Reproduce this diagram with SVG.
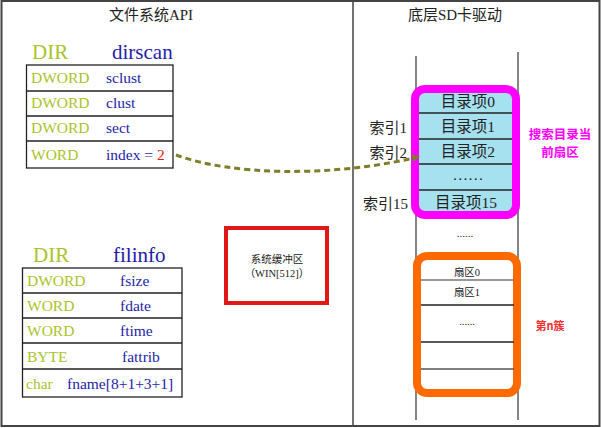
<svg xmlns="http://www.w3.org/2000/svg" width="601" height="428" viewBox="0 0 601 428">
<defs>
<style>
.t{font-family:"Liberation Serif","Noto Sans CJK SC",serif}
.ty{font-size:15.5px;fill:#abc32a}
.fd{font-size:15.5px;fill:#1e1ea8}
.hd{font-size:21px}
.cell{fill:none;stroke:#222;stroke-width:1.3}
.cj{font-family:"Liberation Serif","Noto Sans CJK SC",serif;fill:#222}
</style>
<marker id="ah" markerWidth="8" markerHeight="8" refX="6" refY="4" orient="auto" markerUnits="userSpaceOnUse">
<path d="M0,0 L8,4 L0,8 Z" fill="#7d7d2a"/>
</marker>
</defs>
<rect x="0" y="0" width="601" height="428" fill="#fff"/>
<rect x="1.5" y="1" width="598" height="425" fill="none" stroke="#444" stroke-width="2"/>
<line x1="353" y1="1" x2="353" y2="426" stroke="#444" stroke-width="1.5"/>
<text class="cj" x="151" y="20" font-size="15" text-anchor="middle">文件系统API</text>
<text class="cj" x="455" y="20" font-size="15" text-anchor="middle">底层SD卡驱动</text>

<g id="dirscan">
<text class="t hd" x="32" y="59" fill="#abc32a">DIR</text>
<text class="t hd" x="112" y="59" fill="#1e1ea8">dirscan</text>
<rect class="cell" x="26.5" y="65" width="146.5" height="103"/>
<line class="cell" x1="26.5" y1="91" x2="173" y2="91"/>
<line class="cell" x1="26.5" y1="116" x2="173" y2="116"/>
<line class="cell" x1="26.5" y1="141" x2="173" y2="141"/>
<text class="t ty" x="31" y="83">DWORD</text><text class="t fd" x="106" y="83">sclust</text>
<text class="t ty" x="31" y="108">DWORD</text><text class="t fd" x="106" y="108">clust</text>
<text class="t ty" x="31" y="133">DWORD</text><text class="t fd" x="106" y="133">sect</text>
<text class="t ty" x="31" y="160">WORD</text><text class="t fd" x="106" y="160">index = <tspan fill="#e01818">2</tspan></text>
</g>

<g id="filinfo">
<text class="t hd" x="33" y="262" fill="#abc32a">DIR</text>
<text class="t hd" x="113" y="262" fill="#1e1ea8">filinfo</text>
<rect class="cell" x="22.5" y="268" width="159.5" height="129"/>
<line class="cell" x1="22.5" y1="293" x2="182" y2="293"/>
<line class="cell" x1="22.5" y1="318" x2="182" y2="318"/>
<line class="cell" x1="22.5" y1="343" x2="182" y2="343"/>
<line class="cell" x1="22.5" y1="369" x2="182" y2="369"/>
<text class="t ty" x="27" y="286">DWORD</text><text class="t fd" x="120" y="286">fsize</text>
<text class="t ty" x="27" y="311">WORD</text><text class="t fd" x="120" y="311">fdate</text>
<text class="t ty" x="27" y="336">WORD</text><text class="t fd" x="120" y="336">ftime</text>
<text class="t ty" x="27" y="362">BYTE</text><text class="t fd" x="122" y="362">fattrib</text>
<text class="t ty" x="26" y="389">char</text><text class="t fd" x="67" y="389">fname[8+1+3+1]</text>
</g>

<g id="buffer">
<rect x="226" y="228" width="101" height="75" fill="#fff" stroke="#e01818" stroke-width="4"/>
<text class="cj" x="277" y="263" font-size="10.5" text-anchor="middle">系统缓冲区</text>
<text class="cj" x="277" y="277" font-size="10.5" text-anchor="middle">（WIN[512]）</text>
</g>

<g id="stack">
<line x1="416" y1="56" x2="416" y2="420" stroke="#444" stroke-width="1.3"/>
<line x1="518" y1="52" x2="518" y2="420" stroke="#444" stroke-width="1.3"/>
<text class="cj" x="465" y="237" font-size="11" text-anchor="middle">......</text>
</g>

<g id="dir-sector">
<rect x="415" y="89" width="101" height="126" rx="10" fill="#a6e1f0" stroke="#ff00ff" stroke-width="8"/>
<line class="cell" x1="419" y1="113" x2="512" y2="113"/>
<line class="cell" x1="419" y1="139" x2="512" y2="139"/>
<line class="cell" x1="419" y1="164" x2="512" y2="164"/>
<line class="cell" x1="419" y1="190" x2="512" y2="190"/>
<text class="cj" x="468" y="107" font-size="15.5" text-anchor="middle">目录项0</text>
<text class="cj" x="468" y="132" font-size="15.5" text-anchor="middle">目录项1</text>
<text class="cj" x="468" y="157" font-size="15.5" text-anchor="middle">目录项2</text>
<text class="cj" x="468" y="180" font-size="15.5" text-anchor="middle">……</text>
<text class="cj" x="466" y="208" font-size="15.5" text-anchor="middle">目录项15</text>
<text class="cj" x="407" y="133" font-size="15" text-anchor="end">索引1</text>
<text class="cj" x="407" y="158" font-size="15" text-anchor="end">索引2</text>
<text class="cj" x="408" y="209" font-size="15" text-anchor="end">索引15</text>
<text x="560" y="139" font-family="'Noto Sans CJK SC',sans-serif" font-size="12.5" font-weight="bold" fill="#ff00ff" text-anchor="middle">搜索目录当</text>
<text x="560" y="157" font-family="'Noto Sans CJK SC',sans-serif" font-size="12.5" font-weight="bold" fill="#ff00ff" text-anchor="middle">前扇区</text>
</g>

<g id="cluster">
<rect x="417" y="256" width="100" height="137" rx="10" fill="#fff" stroke="#ff6a00" stroke-width="8"/>
<line x1="421" y1="280" x2="514" y2="280" stroke="#777" stroke-width="1.5"/>
<line class="cell" x1="421" y1="305" x2="514" y2="305"/>
<line class="cell" x1="421" y1="342" x2="514" y2="342"/>
<line x1="421" y1="369" x2="514" y2="369" stroke="#555" stroke-width="1.3"/>
<text class="cj" x="467" y="276" font-size="10.5" text-anchor="middle">扇区0</text>
<text class="cj" x="467" y="296" font-size="10.5" text-anchor="middle">扇区1</text>
<text class="cj" x="467" y="325" font-size="10.5" text-anchor="middle">......</text>
<text x="550" y="330" font-family="'Noto Sans CJK SC',sans-serif" font-size="11" font-weight="bold" fill="#f03030" text-anchor="middle">第n簇</text>
</g>

<g id="connectors">
<path d="M176,155 C230,175 330,178 418,157" fill="none" stroke="#7d7d2a" stroke-width="3" stroke-dasharray="6,4" marker-end="url(#ah)"/>
</g>
</svg>
